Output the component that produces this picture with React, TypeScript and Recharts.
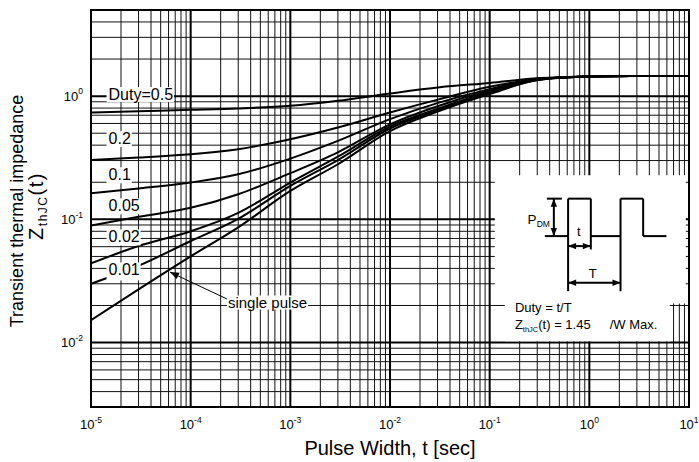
import React from 'react';
import {
  LineChart,
  Line,
  XAxis,
  YAxis,
  CartesianGrid,
  ReferenceArea,
  ReferenceLine,
  ReferenceDot,
  Label,
} from 'recharts';

const FONT = '"Liberation Sans", Arial, Helvetica, sans-serif';

// ---------------- data ----------------
const pulseWidth = [1e-5, 3e-5, 1e-4, 3e-4, 1e-3, 3e-3, 1e-2, 3.16e-2, 1e-1, 3.16e-1, 1, 3.16, 10];
const zDuty05 = [0.736, 0.755, 0.774, 0.794, 0.834, 0.916, 1.05, 1.18, 1.28, 1.4, 1.445, 1.455, 1.46];
const zDuty02 = [0.303, 0.318, 0.337, 0.371, 0.447, 0.556, 0.737, 0.945, 1.19, 1.38, 1.44, 1.455, 1.46];
const zDuty01 = [0.163, 0.178, 0.199, 0.232, 0.311, 0.433, 0.65, 0.89, 1.14, 1.375, 1.44, 1.455, 1.46];
const zDuty005 = [0.089, 0.105, 0.124, 0.16, 0.237, 0.35, 0.59, 0.84, 1.11, 1.37, 1.44, 1.455, 1.46];
const zDuty002 = [0.0439, 0.0607, 0.08, 0.113, 0.199, 0.323, 0.567, 0.8, 1.08, 1.365, 1.44, 1.455, 1.46];
const zDuty001 = [0.03, 0.042, 0.0667, 0.101, 0.187, 0.303, 0.546, 0.78, 1.06, 1.36, 1.44, 1.455, 1.46];
const zSingle = [0.0152, 0.027, 0.05, 0.086, 0.17, 0.28, 0.52, 0.76, 1.04, 1.355, 1.44, 1.455, 1.46];

const curveLabels = ['Duty=0.5', '0.2', '0.1', '0.05', '0.02', '0.01'];
const curveLabelT = [1.5e-5, 1.5e-5, 1.5e-5, 1.5e-5, 1.5e-5, 1.5e-5];
const curveLabelZ = [1.038, 0.456, 0.232, 0.13, 0.0727, 0.0392];
const curveLabelPadBottom = [1, 2, 2, 2, 2, 4];

const xMajorTicks = [1e-5, 1e-4, 1e-3, 1e-2, 1e-1, 1, 10];
const yMajorTicks = [0.01, 0.1, 1];
const X_DOMAIN: [number, number] = [1e-5, 10];
const Y_DOMAIN: [number, number] = [0.003, 5];

const minorMult = [2, 3, 4, 5, 6, 7, 8, 9];
const xDecades = [1e-5, 1e-4, 1e-3, 1e-2, 1e-1, 1];
const yDecades = [0.001, 0.01, 0.1, 1];
const xMinor = xDecades.flatMap((d) => minorMult.map((m) => d * m));
const yMinor = yDecades
  .flatMap((d) => minorMult.map((m) => d * m))
  .filter((v) => v > 0.0031 && v < 4.9);
const xMajorGrid = xMajorTicks;
const yMajorGrid = [0.003, 0.01, 0.1, 1, 5];

const toPoints = (vals: number[]) => pulseWidth.map((t, i) => ({ t, z: vals[i] }));
const series = [zDuty05, zDuty02, zDuty01, zDuty005, zDuty002, zDuty001, zSingle].map(toPoints);

// ---------------- helpers ----------------
const P = (lx: number, ly: number) => ({ x: Math.pow(10, lx), y: Math.pow(10, ly) });

const CW: Record<string, number> = {
  '0': 0.556, '1': 0.556, '2': 0.556, '3': 0.556, '4': 0.556, '5': 0.556, '6': 0.556,
  '7': 0.556, '8': 0.556, '9': 0.556, '.': 0.278, '=': 0.584, ' ': 0.278, D: 0.722,
  u: 0.556, t: 0.278, y: 0.5, s: 0.5, i: 0.222, n: 0.556, g: 0.556, l: 0.222, e: 0.556, p: 0.556,
};
const textWidth = (s: string, fs: number) =>
  s.split('').reduce((a, c) => a + (CW[c] ?? 0.556), 0) * fs;

const CurveLabel = (props: any) => {
  const { cx, cy, text, padBottom = 1, fs = 16 } = props;
  const w = textWidth(text, fs);
  return (
    <g>
      <rect x={cx - 2} y={cy - 7} width={w + 3} height={14 + padBottom} fill="#fff" />
      <text x={cx} y={cy + 5.6} fontSize={fs} fontFamily={FONT} fill="#000">
        {text}
      </text>
    </g>
  );
};

const arrowHead = (x: number, y: number, ang: number, len = 8, half = 3.2) => {
  const bx = x - len * Math.cos(ang);
  const by = y - len * Math.sin(ang);
  const px = -Math.sin(ang) * half;
  const py = Math.cos(ang) * half;
  return `${x},${y} ${bx + px},${by + py} ${bx - px},${by - py}`;
};

const DoubleArrow = (props: any) => {
  const { x1, y1, x2, y2 } = props;
  const a = Math.atan2(y2 - y1, x2 - x1);
  return (
    <g>
      <line x1={x1} y1={y1} x2={x2} y2={y2} stroke="#000" strokeWidth={2} />
      <polygon points={arrowHead(x2, y2, a)} fill="#000" />
      <polygon points={arrowHead(x1, y1, a + Math.PI)} fill="#000" />
    </g>
  );
};

const SingleArrow = (props: any) => {
  const { x1, y1, x2, y2 } = props;
  const a = Math.atan2(y2 - y1, x2 - x1);
  return (
    <g>
      <line x1={x1} y1={y1} x2={x2} y2={y2} stroke="#000" strokeWidth={1} />
      <polygon points={arrowHead(x2, y2, a, 9, 3.5)} fill="#000" />
    </g>
  );
};

const XTick = (props: any) => {
  const { x, y, payload } = props;
  const exp = Math.round(Math.log10(payload.value));
  return (
    <text x={x} y={y + 22} textAnchor="middle" fontFamily={FONT} fontSize={13} fill="#000">
      10
      <tspan dy={-6.5} fontSize={8.5}>
        {exp}
      </tspan>
    </text>
  );
};

const YTick = (props: any) => {
  const { x, y, payload } = props;
  const exp = Math.round(Math.log10(payload.value));
  return (
    <text x={x} y={y + 4.7} textAnchor="end" fontFamily={FONT} fontSize={13} fill="#000">
      10
      <tspan dy={-6.5} fontSize={8.5}>
        {exp}
      </tspan>
    </text>
  );
};

const YTitle = (props: any) => {
  const vb = props.viewBox || { x: 31, y: 10, width: 60, height: 397 };
  const cy1 = vb.y + vb.height / 2 + 2.5;
  const bx1 = vb.x - 8;
  const cy2 = vb.y + vb.height / 2 - 2.5;
  const bx2 = vb.x + 12;
  return (
    <g fontFamily={FONT} fill="#000">
      <text x={bx1} y={cy1} transform={`rotate(-90, ${bx1}, ${cy1})`} textAnchor="middle" fontSize={18}>
        Transient thermal impedance
      </text>
      <text x={bx2} y={cy2} transform={`rotate(-90, ${bx2}, ${cy2})`} textAnchor="middle" fontSize={20} letterSpacing={1.5}>
        Z
        <tspan fontSize={12} dy={4}>
          thJC
        </tspan>
        <tspan dy={-4}>(t)</tspan>
      </text>
    </g>
  );
};

const XTitle = (props: any) => {
  const vb = props.viewBox || { x: 91, y: 407, width: 598, height: 30 };
  return (
    <text
      x={vb.x + vb.width / 2}
      y={vb.y + 48}
      textAnchor="middle"
      fontFamily={FONT}
      fontSize={20}
      fill="#000"
    >
      Pulse Width, t [sec]
    </text>
  );
};

const InsetText = (props: any) => {
  const { cx, cy, kind } = props;
  const common = { fontFamily: FONT, fill: '#000' };
  if (kind === 'pdm')
    return (
      <text x={cx} y={cy + 5} textAnchor="end" fontSize={13.5} {...common}>
        P
        <tspan fontSize={8.5} dy={2.5}>
          DM
        </tspan>
      </text>
    );
  if (kind === 't')
    return (
      <text x={cx} y={cy + 4.5} textAnchor="middle" fontSize={13} {...common}>
        t
      </text>
    );
  if (kind === 'T')
    return (
      <text x={cx} y={cy + 4.5} textAnchor="middle" fontSize={13} {...common}>
        T
      </text>
    );
  if (kind === 'duty')
    return (
      <text x={cx} y={cy + 4.7} fontSize={13} {...common}>
        Duty = t/T
      </text>
    );
  return (
    <text x={cx} y={cy + 4.7} fontSize={13} {...common}>
      Z
      <tspan fontSize={7.5} dy={3}>
        thJC
      </tspan>
      <tspan dy={-3}>(t) = 1.45</tspan>
      <tspan dx={19}>/W Max.</tspan>
    </text>
  );
};

const SinglePulseLabel = (props: any) => {
  const { cx, cy } = props;
  const fs = 15;
  const w = textWidth('single pulse', fs);
  return (
    <g>
      <rect x={cx - 1} y={cy - 7} width={w + 2} height={14} fill="#fff" />
      <text x={cx} y={cy + 5.3} fontSize={fs} fontFamily={FONT} fill="#000">
        single pulse
      </text>
    </g>
  );
};

// inset geometry (log10 coordinates in data space)
const BASE = -1.136;
const HIGH = -0.832;
const E0 = -0.446;
const E1 = -0.213;
const E2 = 0.015;
const E3 = 0.313;
const E4 = 0.54;
const E5 = 0.774;
const waveSegments: [number, number, number, number][] = [
  [E0, BASE, E1, BASE],
  [E1, BASE, E1, HIGH],
  [E1, HIGH, E2, HIGH],
  [E2, HIGH, E2, BASE],
  [E2, BASE, E3, BASE],
  [E3, BASE, E3, HIGH],
  [E3, HIGH, E4, HIGH],
  [E4, HIGH, E4, BASE],
  [E4, BASE, E5, BASE],
  [E1, BASE, E1, -1.583],
  [E2, BASE, E2, -1.244],
  [E3, BASE, E3, -1.583],
  [-0.426, HIGH, -0.276, HIGH],
];

export default function App() {
  return (
    <div style={{ position: 'absolute', left: 0, top: 0, width: 699, height: 462, background: '#fff' }}>
      <LineChart
        width={699}
        height={462}
        margin={{ top: 10, right: 10, bottom: 25, left: 31 }}
      >
        <CartesianGrid
          horizontalValues={yMinor}
          verticalValues={xMinor}
          stroke="#111"
          strokeWidth={1}
          strokeDasharray=""
        />
        <CartesianGrid
          horizontalValues={yMajorGrid}
          verticalValues={xMajorGrid}
          stroke="#000"
          strokeWidth={2}
          strokeDasharray=""
        />
        <XAxis
          type="number"
          dataKey="t"
          scale="log"
          domain={X_DOMAIN}
          ticks={xMajorTicks}
          interval={0}
          allowDataOverflow
          height={30}
          axisLine={false}
          tickLine={false}
          tickSize={0}
          tickMargin={0}
          tick={(p: any) => <XTick {...p} />}
        >
          <Label content={(p: any) => <XTitle {...p} />} />
        </XAxis>
        <YAxis
          type="number"
          dataKey="z"
          scale="log"
          domain={Y_DOMAIN}
          ticks={yMajorTicks}
          interval={0}
          allowDataOverflow
          width={60}
          axisLine={false}
          tickLine={false}
          tickSize={0}
          tickMargin={8}
          tick={(p: any) => <YTick {...p} />}
        >
          <Label content={(p: any) => <YTitle {...p} />} />
        </YAxis>

        {/* inset white panels */}
        <ReferenceArea
          x1={Math.pow(10, -0.948)}
          x2={Math.pow(10, 0.968)}
          y1={Math.pow(10, -1.683)}
          y2={Math.pow(10, -0.642)}
          fill="#fff"
          fillOpacity={1}
          stroke="none"
          zIndex={150}
        />
        <ReferenceArea
          x1={Math.pow(10, -0.848)}
          x2={Math.pow(10, 0.807)}
          y1={Math.pow(10, -1.99)}
          y2={Math.pow(10, -1.6)}
          fill="#fff"
          fillOpacity={1}
          stroke="none"
          zIndex={150}
        />

        {series.map((d, i) => (
          <Line
            key={i}
            data={d}
            dataKey="z"
            type="monotone"
            stroke="#000"
            strokeWidth={2}
            dot={false}
            activeDot={false}
            isAnimationActive={false}
          />
        ))}

        {/* plot frame */}
        <ReferenceArea
          x1={X_DOMAIN[0]}
          x2={X_DOMAIN[1]}
          y1={Y_DOMAIN[0]}
          y2={Y_DOMAIN[1]}
          fill="none"
          stroke="#000"
          strokeWidth={2}
          zIndex={450}
        />

        {/* inset waveform */}
        {waveSegments.map((s, i) => (
          <ReferenceLine
            key={'w' + i}
            segment={[P(s[0], s[1]), P(s[2], s[3])]}
            stroke="#000"
            strokeWidth={2}
            zIndex={460}
          />
        ))}
        <ReferenceLine
          segment={[P(-0.356, HIGH), P(-0.356, BASE)]}
          shape={(p: any) => <DoubleArrow {...p} />}
          zIndex={460}
        />
        <ReferenceLine
          segment={[P(E1, -1.217), P(E2, -1.217)]}
          shape={(p: any) => <DoubleArrow {...p} />}
          zIndex={460}
        />
        <ReferenceLine
          segment={[P(E1, -1.515), P(E3, -1.515)]}
          shape={(p: any) => <DoubleArrow {...p} />}
          zIndex={460}
        />

        {/* single pulse arrow */}
        <ReferenceLine
          segment={[P(-3.626, -1.65), P(-4.208, -1.428)]}
          shape={(p: any) => <SingleArrow {...p} />}
          zIndex={470}
        />

        {/* curve labels */}
        {curveLabels.map((txt, i) => (
          <ReferenceDot
            key={'l' + i}
            x={curveLabelT[i]}
            y={curveLabelZ[i]}
            r={0}
            shape={(p: any) => <CurveLabel {...p} text={txt} padBottom={curveLabelPadBottom[i]} />}
            zIndex={700}
          />
        ))}
        <ReferenceDot
          x={Math.pow(10, -3.626)}
          y={Math.pow(10, -1.675)}
          r={0}
          shape={(p: any) => <SinglePulseLabel {...p} />}
          zIndex={700}
        />

        {/* inset texts */}
        <ReferenceDot x={Math.pow(10, -0.396)} y={Math.pow(10, -1.0)} r={0} shape={(p: any) => <InsetText {...p} kind="pdm" />} zIndex={700} />
        <ReferenceDot x={Math.pow(10, -0.105)} y={Math.pow(10, -1.098)} r={0} shape={(p: any) => <InsetText {...p} kind="t" />} zIndex={700} />
        <ReferenceDot x={Math.pow(10, 0.035)} y={Math.pow(10, -1.439)} r={0} shape={(p: any) => <InsetText {...p} kind="T" />} zIndex={700} />
        <ReferenceDot x={Math.pow(10, -0.747)} y={Math.pow(10, -1.715)} r={0} shape={(p: any) => <InsetText {...p} kind="duty" />} zIndex={700} />
        <ReferenceDot x={Math.pow(10, -0.747)} y={Math.pow(10, -1.854)} r={0} shape={(p: any) => <InsetText {...p} kind="z" />} zIndex={700} />
      </LineChart>
    </div>
  );
}
